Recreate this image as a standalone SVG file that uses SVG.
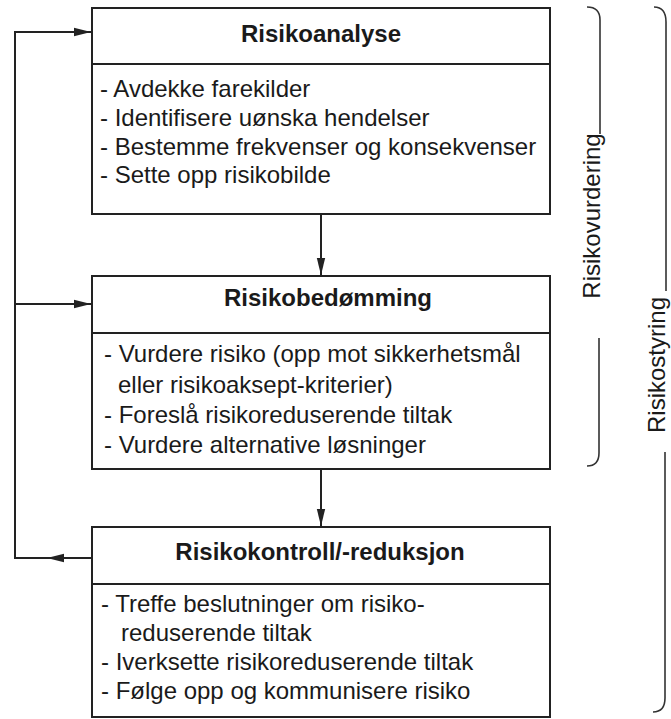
<svg xmlns="http://www.w3.org/2000/svg" width="671" height="719" viewBox="0 0 671 719">
<style>
.box{fill:#fff;stroke:#222;stroke-width:2}
.div{stroke:#222;stroke-width:2}
.h{font-family:"Liberation Sans",Arial,sans-serif;font-weight:bold;font-size:24px;fill:#1a1a1a;text-anchor:middle}
.t{font-family:"Liberation Sans",Arial,sans-serif;font-size:24px;fill:#1a1a1a}
.c{fill:none;stroke:#222;stroke-width:2}
.br{fill:none;stroke:#333;stroke-width:1.6}
.lb{font-family:"Liberation Sans",Arial,sans-serif;font-size:24px;fill:#1a1a1a;text-anchor:middle}
</style>
<defs>
<marker id="ah" markerUnits="userSpaceOnUse" markerWidth="18" markerHeight="10" refX="17" refY="5" orient="auto">
<path d="M0,0.8 L17,5 L0,9.2 Z" fill="#222"/>
</marker>
</defs>
<rect width="671" height="719" fill="#fff"/>
<g id="connectors">
<path class="c" d="M321,214 L321,275" marker-end="url(#ah)"/>
<path class="c" d="M321,469 L321,526" marker-end="url(#ah)"/>
<path class="c" d="M92,558 L47,558" marker-end="url(#ah)"/>
<path class="c" d="M50,558 L15,558 L15,32 L91,32" marker-end="url(#ah)"/>
<path class="c" d="M15,304 L91,304" marker-end="url(#ah)"/>
</g>
<g id="risikoanalyse">
<rect class="box" x="92" y="8" width="458" height="206"/>
<line class="div" x1="92" y1="64" x2="550" y2="64"/>
<text class="h" x="321" y="42">Risikoanalyse</text>
<text class="t" x="100" y="97">- Avdekke farekilder</text>
<text class="t" x="100" y="126">- Identifisere uønska hendelser</text>
<text class="t" x="100" y="155">- Bestemme frekvenser og konsekvenser</text>
<text class="t" x="100" y="183">- Sette opp risikobilde</text>
</g>
<g id="risikobedomming">
<rect class="box" x="92" y="276" width="458" height="193"/>
<line class="div" x1="92" y1="333" x2="550" y2="333"/>
<text class="h" x="328" y="306">Risikobedømming</text>
<text class="t" x="104" y="362">- Vurdere risiko (opp mot sikkerhetsmål</text>
<text class="t" x="118" y="393">eller risikoaksept-kriterier)</text>
<text class="t" x="104" y="423">- Foreslå risikoreduserende tiltak</text>
<text class="t" x="104" y="453">- Vurdere alternative løsninger</text>
</g>
<g id="risikokontroll">
<rect class="box" x="92" y="527" width="458" height="190"/>
<line class="div" x1="92" y1="584" x2="550" y2="584"/>
<text class="h" x="320" y="560">Risikokontroll/-reduksjon</text>
<text class="t" x="101" y="612">- Treffe beslutninger om risiko-</text>
<text class="t" x="121" y="641">reduserende tiltak</text>
<text class="t" x="101" y="670">- Iverksette risikoreduserende tiltak</text>
<text class="t" x="101" y="699">- Følge opp og kommunisere risiko</text>
</g>
<g id="risikovurdering">
<path class="br" d="M587,7 Q600,7 600,20 L600,134"/>
<path class="br" d="M599,338 L599,453 Q599,466 587,466"/>
<text class="lb" transform="translate(600,216) rotate(-90)">Risikovurdering</text>
</g>
<g id="risikostyring">
<path class="br" d="M654,7 Q666,7 666,22 L666,291"/>
<path class="br" d="M665,452 L665,698 Q665,712 653,712"/>
<text class="lb" transform="translate(665,365) rotate(-90)">Risikostyring</text>
</g>
</svg>
